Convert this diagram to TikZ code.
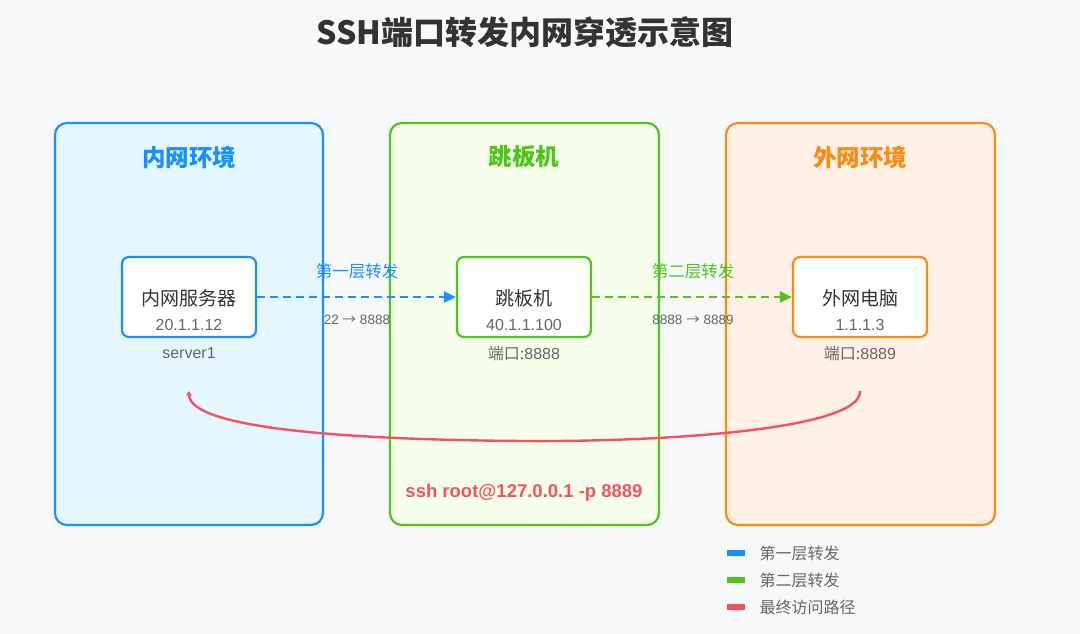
\documentclass[tikz,border=0pt]{standalone}
\usepackage{fontspec}
\setmainfont{Noto Sans CJK SC}
\newfontfamily\lat{Liberation Sans}
\newfontfamily\arr{Noto Sans CJK SC}
\usetikzlibrary{arrows.meta}
\definecolor{bg}{HTML}{F7F8FA}
\definecolor{cblue}{HTML}{1890FF}
\definecolor{cgreen}{HTML}{52C41A}
\definecolor{corange}{HTML}{FA8C16}
\definecolor{cred}{HTML}{F5515F}
\definecolor{fblue}{HTML}{E6F6FF}
\definecolor{fgreen}{HTML}{F5FFEC}
\definecolor{forange}{HTML}{FFF1E6}
\definecolor{tdark}{HTML}{333333}
\definecolor{tgray}{HTML}{666666}
\tikzset{
  zone/.style={draw=#1, line width=2.2pt, rounded corners=12pt},
  hostbox/.style={draw=#1, fill=white, line width=2.2pt, rounded corners=7pt, minimum width=134pt, minimum height=80pt},
  zonetitle/.style={font=\fontsize{23.5}{28}\selectfont\bfseries, text=#1},
  hostname/.style={font=\fontsize{19}{22}\selectfont, text=tdark},
  hostip/.style={font=\lat\fontsize{16}{19}\selectfont, text=tgray},
  subnote/.style={font=\fontsize{16}{19}\selectfont, text=tgray},
  fwd/.style={draw=#1, line width=2.4pt, dash pattern=on 7.5pt off 5.5pt, -{Triangle[length=12pt,width=11pt,fill=#1]}},
  fwdlabel/.style={font=\fontsize{16.5}{19}\selectfont, text=#1},
  portlabel/.style={font=\lat\fontsize{13.5}{16}\selectfont, text=tgray},
  legendbar/.style={fill=#1, minimum width=18pt, minimum height=6pt, inner sep=0pt},
  legendtext/.style={font=\fontsize{16}{19}\selectfont, text=tgray, anchor=west}
}
\begin{document}
\begin{tikzpicture}[x=1pt,y=-1pt]
\fill[bg] (0,0) rectangle (1080,634);
\useasboundingbox (0,0) rectangle (1080,634);
% title
\node (title) at (525,32) {\fontsize{32}{36}\selectfont\bfseries\color{tdark}SSH端口转发内网穿透示意图};
% zones
\filldraw[zone=cblue, fill=fblue] (55,123) rectangle (323,525);
\filldraw[zone=cgreen, fill=fgreen] (390,123) rectangle (659,525);
\filldraw[zone=corange, fill=forange] (726,123) rectangle (995,525);
\node[zonetitle=cblue] (t1) at (189,157) {内网环境};
\node[zonetitle=cgreen] (t2) at (524,157) {跳板机};
\node[zonetitle=corange] (t3) at (860,157) {外网环境};
% hosts
\node[hostbox=cblue] (h1) at (189,297) {};
\node[hostbox=cgreen] (h2) at (524,297) {};
\node[hostbox=corange] (h3) at (860,297) {};
\node[hostname] (n1) at (189,298) {内网服务器};
\node[hostip] (i1) at (189,325) {20.1.1.12};
\node[subnote, font=\lat\fontsize{16}{19}\selectfont] (s1) at (189,353) {server1};
\node[hostname] (n2) at (524,298) {跳板机};
\node[hostip] (i2) at (524,325) {40.1.1.100};
\node[subnote] (s2) at (524,353) {端口:\lat 8888};
\node[hostname] (n3) at (860,298) {外网电脑};
\node[hostip] (i3) at (860,325) {1.1.1.3};
\node[subnote] (s3) at (860,353) {端口:\lat 8889};
% forwards
\draw[fwd=cblue] (h1.east) -- (h2.west);
\draw[fwd=cgreen] (h2.east) -- (h3.west);
\node[fwdlabel=cblue] (f1) at (357,271) {第一层转发};
\node[portlabel] (p1) at (357,320) {22 {\arr→} 8888};
\node[fwdlabel=cgreen] (f2) at (693,271) {第二层转发};
\node[portlabel] (p2) at (693,320) {8888 {\arr→} 8889};
% return path
\coordinate (rs) at (860,391);
\coordinate (re) at (189,391);
\draw[cred, line width=2.4pt, -{Stealth[length=5pt,width=6pt]}] (rs) .. controls (862,430) and (660,442) .. (524,441) .. controls (380,440) and (188,432) .. (re);
\node (cmd) at (524,493) {\lat\fontsize{18.5}{22}\selectfont\bfseries\color{cred}ssh root@127.0.0.1 -p 8889};
% legend
\node[legendbar=cblue] (l1) at (736,553) {};
\node[legendbar=cgreen] (l2) at (736,580) {};
\node[legendbar=cred] (l3) at (736,607) {};
\node[legendtext] (lt1) at (756,553) {第一层转发};
\node[legendtext] (lt2) at (756,580) {第二层转发};
\node[legendtext] (lt3) at (756,607) {最终访问路径};
\end{tikzpicture}
\end{document}
